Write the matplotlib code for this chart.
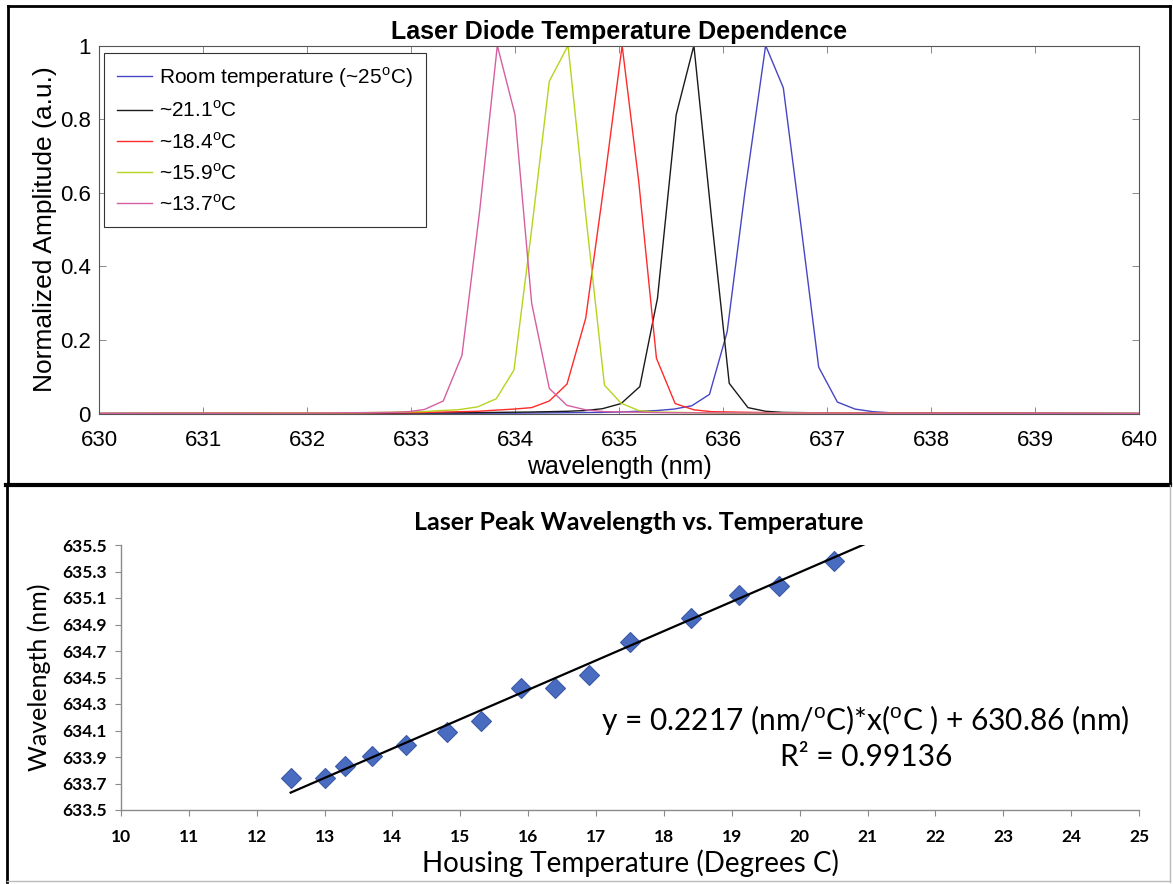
import numpy as np
import matplotlib
matplotlib.use("Agg")
import matplotlib.pyplot as plt
from matplotlib.lines import Line2D

plt.rcParams["mathtext.fontset"] = "custom"
plt.rcParams["mathtext.rm"] = "Liberation Sans"

# ---- top panel: normalised spectra ----
wl_room = [630.0, 634.0, 634.84, 635.01, 635.18, 635.36, 635.53, 635.70, 635.87, 636.04,
           636.21, 636.41, 636.58, 636.75, 636.92, 637.10, 637.27, 637.44, 637.61, 638.5, 640.0]
amp_room = [0.0, 0.001, 0.003, 0.004, 0.006, 0.008, 0.012, 0.021, 0.052, 0.222,
            0.60, 1.0, 0.885, 0.51, 0.126, 0.031, 0.012, 0.005, 0.002, 0.001, 0.0]

wl_211 = [630.0, 633.5, 634.15, 634.33, 634.50, 634.67, 634.84, 635.02, 635.20, 635.37,
          635.55, 635.72, 635.89, 636.06, 636.24, 636.41, 636.58, 637.2, 640.0]
amp_211 = [0.0, 0.002, 0.004, 0.005, 0.006, 0.008, 0.013, 0.027, 0.073, 0.313,
           0.812, 1.0, 0.53, 0.082, 0.016, 0.006, 0.003, 0.001, 0.0]

wl_184 = [630.0, 633.0, 633.64, 633.81, 633.99, 634.16, 634.33, 634.50, 634.68, 634.86,
          635.03, 635.19, 635.36, 635.54, 635.72, 635.89, 636.5, 640.0]
amp_184 = [0.0, 0.002, 0.006, 0.009, 0.012, 0.016, 0.034, 0.080, 0.259, 0.63,
           1.0, 0.63, 0.15, 0.027, 0.010, 0.005, 0.002, 0.0]

wl_159 = [630.0, 632.5, 633.12, 633.28, 633.45, 633.64, 633.82, 633.99, 634.16, 634.33,
          634.51, 634.68, 634.86, 635.02, 635.19, 635.36, 636.0, 640.0]
amp_159 = [0.0, 0.002, 0.005, 0.008, 0.010, 0.018, 0.040, 0.118, 0.50, 0.903,
           1.0, 0.54, 0.077, 0.028, 0.008, 0.004, 0.001, 0.0]

wl_137 = [630.0, 632.0, 632.80, 632.98, 633.13, 633.31, 633.49, 633.66, 633.83, 634.00,
          634.16, 634.33, 634.50, 634.68, 634.86, 635.5, 637.0, 640.0]
amp_137 = [0.0, 0.001, 0.003, 0.005, 0.011, 0.034, 0.158, 0.55, 1.0, 0.812,
           0.30, 0.068, 0.022, 0.010, 0.005, 0.002, 0.001, 0.0]

spectra = [
    (wl_room, amp_room, r"Room temperature (~25$^{\rm o}$C)", "#4646c4"),
    (wl_211, amp_211, r"~21.1$^{\rm o}$C", "#1a1a1a"),
    (wl_184, amp_184, r"~18.4$^{\rm o}$C", "#ff2a2a"),
    (wl_159, amp_159, r"~15.9$^{\rm o}$C", "#b9d21e"),
    (wl_137, amp_137, r"~13.7$^{\rm o}$C", "#d55fa0"),
]

# ---- bottom panel: peak wavelength vs housing temperature ----
temp_c = [12.5, 13.0, 13.3, 13.7, 14.2, 14.8, 15.3, 15.9, 16.4, 16.9, 17.5, 18.4, 19.1, 19.7, 20.5]
peak_nm = [633.74, 633.74, 633.83, 633.91, 633.99, 634.09, 634.17, 634.42, 634.42, 634.52,
           634.77, 634.95, 635.12, 635.19, 635.38]
fit_slope = 0.2217
fit_icpt = 630.86
fit_range = [12.5, 21.0]

W, H = 1173, 884
fig = plt.figure(figsize=(W / 100, H / 100), dpi=100)
fig.patch.set_facecolor("white")

mfont = "Liberation Sans"
xfont = "Lato"

# top axes (MATLAB look)
ax1 = fig.add_axes([99 / W, 1 - 413.5 / H, 1040 / W, 368 / H])
for wl, amp, lab, c in spectra:
    ax1.plot(wl, amp, color=c, lw=1.0, label=lab)
ax1.set_xlim(630, 640)
ax1.set_ylim(0, 1)
ax1.set_xticks(range(630, 641))
ax1.set_yticks([0, 0.2, 0.4, 0.6, 0.8, 1.0])
ax1.set_yticklabels(["0", "0.2", "0.4", "0.6", "0.8", "1"])
ax1.tick_params(direction="in", top=True, right=True, length=5, width=0.6,
                color="#777777", labelsize=16)
ax1.tick_params(axis="x", pad=12)
ax1.tick_params(axis="y", pad=6)
for lbl in ax1.get_xticklabels() + ax1.get_yticklabels():
    lbl.set_family(mfont)
for sp in ax1.spines.values():
    sp.set_color("#555555")
    sp.set_linewidth(0.8)
ax1.set_xlabel("wavelength (nm)", family=mfont, fontsize=18, labelpad=3)
ax1.set_ylabel("Normalized Amplitude (a.u.)", family=mfont, fontsize=19, labelpad=2)
ax1.set_title("Laser Diode Temperature Dependence", family=mfont, fontsize=18,
              fontweight="bold", pad=5)
leg = ax1.legend(loc="upper left", bbox_to_anchor=(0.005, 0.98), borderaxespad=0,
                 frameon=True, fancybox=False, edgecolor="#333333", framealpha=1,
                 prop={"family": mfont, "size": 15}, handlelength=1.7,
                 handletextpad=0.35, labelspacing=0.5, borderpad=0.6)
leg.get_frame().set_linewidth(0.8)

# bottom axes (Excel look)
ax2 = fig.add_axes([121 / W, 1 - 810 / H, 1018 / W, 265 / H])
ax2.plot(fit_range, [fit_slope * t + fit_icpt for t in fit_range], color="black", lw=1.6, zorder=3)
ax2.plot(temp_c, peak_nm, ls="none", marker="D", markersize=10, color="#4a6cc0",
         markeredgecolor="#3b5aa6", markeredgewidth=0.8, zorder=2)
ax2.set_xlim(10, 25)
ax2.set_ylim(633.5, 635.5)
ax2.set_xticks(range(10, 26))
ax2.set_yticks(np.round(np.arange(633.5, 635.51, 0.2), 1))
ax2.yaxis.set_major_formatter(matplotlib.ticker.FormatStrFormatter("%.1f"))
for s in ("top", "right"):
    ax2.spines[s].set_visible(False)
for s in ("left", "bottom"):
    ax2.spines[s].set_color("#8a8a8a")
    ax2.spines[s].set_linewidth(1.0)
ax2.tick_params(direction="out", length=4, width=0.8, color="#8a8a8a", labelsize=12.5)
ax2.tick_params(axis="x", pad=10)
ax2.tick_params(axis="y", pad=6)
for lbl in ax2.get_xticklabels() + ax2.get_yticklabels():
    lbl.set_family(xfont)
    lbl.set_fontweight("bold")
ax2.set_xlabel("Housing Temperature (Degrees C)", family=xfont, fontsize=20, labelpad=3)
ax2.set_ylabel("Wavelength (nm)", family=xfont, fontsize=18, labelpad=8)
fig.text(639 / W, 1 - 522 / H, "Laser Peak Wavelength vs. Temperature", family=xfont,
         fontsize=18, fontweight="bold", ha="center", va="center")
fig.text(865 / W, 1 - 720 / H, r"y = 0.2217 (nm/$^{\rm o}$C)*x($^{\rm o}$C ) + 630.86 (nm)",
         family=xfont, fontsize=21.5, ha="center", va="center")
fig.text(866 / W, 1 - 757 / H, "R² = 0.99136", family=xfont, fontsize=21.5,
         ha="center", va="center")

# panel frames
def hline(y, x0, x1, c="black", lw=2.0):
    fig.add_artist(Line2D([x0 / W, x1 / W], [1 - y / H, 1 - y / H], color=c, lw=lw,
                          transform=fig.transFigure))

def vline(x, y0, y1, c="black", lw=2.0):
    fig.add_artist(Line2D([x / W, x / W], [1 - y0 / H, 1 - y1 / H], color=c, lw=lw,
                          transform=fig.transFigure))

hline(6, 8, 1170)
hline(485, 6, 1170, lw=3.0)
vline(8, 6, 485)
vline(1170, 6, 485)
vline(7, 485, 882)
vline(1170, 485, 882, c="#bbbbbb", lw=1.0)
hline(881, 7, 1170, c="#bbbbbb", lw=1.0)

fig.savefig("out.png", dpi=100)
